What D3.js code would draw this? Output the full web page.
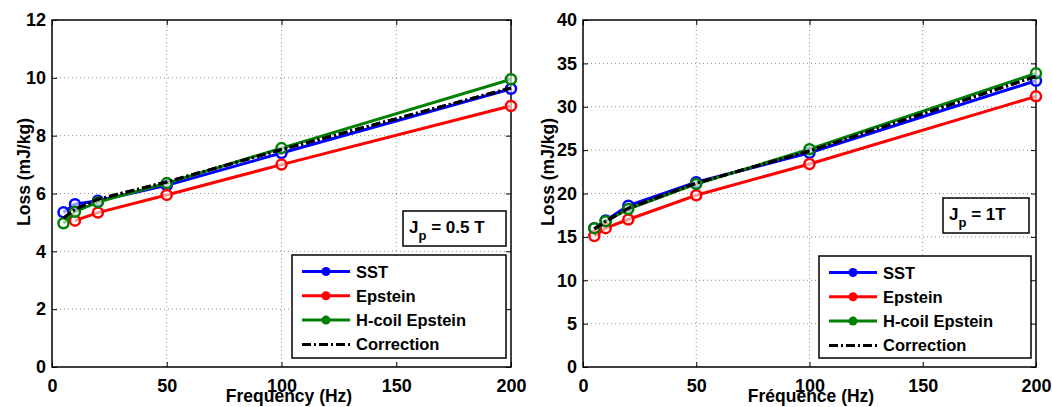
<!DOCTYPE html>
<html><head><meta charset="utf-8">
<script src="https://cdn.jsdelivr.net/npm/d3@7"></script>
<style>
body{margin:0;background:#fff;}
svg{display:block;font-family:"Liberation Sans",Arial,sans-serif;font-weight:bold;}
</style></head>
<body>
<svg id="chart" width="1052" height="407"></svg>
<script>
const freqs = [5, 10, 20, 50, 100, 200];
const epsteinFreqs05 = [10, 20, 50, 100, 200];
const sst05 = [5.35, 5.63, 5.75, 6.28, 7.40, 9.62];
const epstein05 = [5.06, 5.34, 5.95, 7.00, 9.03];
const hcoil05 = [4.97, 5.37, 5.70, 6.36, 7.57, 9.95];
const corr05 = [5.15, 5.45, 5.80, 6.40, 7.52, 9.65];

const sst1 = [16.0, 16.9, 18.6, 21.3, 24.7, 33.0];
const epstein1 = [15.1, 16.0, 17.0, 19.8, 23.4, 31.2];
const hcoil1 = [16.0, 16.8, 18.2, 21.1, 25.1, 33.85];
const corr1 = [15.9, 16.8, 18.3, 21.2, 24.9, 33.5];

const xTicks = [0, 50, 100, 150, 200];
const yTicks05 = [0, 2, 4, 6, 8, 10, 12];
const yTicks1 = [0, 5, 10, 15, 20, 25, 30, 35, 40];
const legendNames = ["SST", "Epstein", "H-coil Epstein", "Correction"];
const colors = {SST: "#0000ff", Epstein: "#ff0000", "H-coil Epstein": "#008000", Correction: "#000000"};

const svg = d3.select("#chart");

function panel(cfg) {
  const x = d3.scaleLinear().domain([0, 200]).range([cfg.x0, cfg.x1]);
  const y = d3.scaleLinear().domain([0, cfg.ymax]).range([367, 20]);
  const g = svg.append("g");
  // grid
  g.selectAll(".gx").data(xTicks.slice(1, -1)).join("line")
    .attr("x1", d => x(d)).attr("x2", d => x(d)).attr("y1", y(0)).attr("y2", y(cfg.ymax))
    .attr("stroke", "#8c8c8c").attr("stroke-width", 1).attr("stroke-dasharray", "1,3");
  g.selectAll(".gy").data(cfg.yTicks.slice(1, -1)).join("line")
    .attr("y1", d => y(d)).attr("y2", d => y(d)).attr("x1", x(0)).attr("x2", x(200))
    .attr("stroke", "#8c8c8c").attr("stroke-width", 1).attr("stroke-dasharray", "1,3");

  // axes
  const xa = g.append("g").attr("transform", `translate(0,${y(0)})`)
    .call(d3.axisBottom(x).tickValues(xTicks).tickSize(-5).tickPadding(12).tickSizeOuter(0));
  const ya = g.append("g").attr("transform", `translate(${x(0)},0)`)
    .call(d3.axisLeft(y).tickValues(cfg.yTicks).tickSize(-5).tickPadding(6).tickSizeOuter(0));
  const xt = g.append("g").attr("transform", `translate(0,${y(cfg.ymax)})`)
    .call(d3.axisTop(x).tickValues(xTicks).tickSize(-5).tickFormat("").tickSizeOuter(0));
  const yr = g.append("g").attr("transform", `translate(${x(200)},0)`)
    .call(d3.axisRight(y).tickValues(cfg.yTicks).tickSize(-5).tickFormat("").tickSizeOuter(0));
  [xa, ya, xt, yr].forEach(a => {
    a.select(".domain").remove();
    a.selectAll("line").attr("stroke", "#000").attr("stroke-width", 1);
    a.selectAll("text").attr("font-size", 18).attr("font-weight", "bold")
      .attr("font-family", "'Liberation Sans',Arial,sans-serif").attr("fill", "#000");
  });
  xa.selectAll("text").attr("dy", "0.71em");
  // frame
  g.append("rect").attr("x", x(0)).attr("y", y(cfg.ymax))
    .attr("width", x(200) - x(0)).attr("height", y(0) - y(cfg.ymax))
    .attr("fill", "none").attr("stroke", "#000").attr("stroke-width", 1.5);

  // series
  const line = d3.line().x(d => x(d[0])).y(d => y(d[1]));
  cfg.series.forEach(s => {
    const pts = s.f.map((f, i) => [f, s.v[i]]);
    const path = g.append("path").datum(pts).attr("d", line)
      .attr("fill", "none").attr("stroke", colors[s.name]).attr("stroke-width", 3);
    if (s.name === "Correction") {
      path.attr("stroke-dasharray", "9,3,2,3");
    } else {
      g.selectAll(null).data(pts).join("circle")
        .attr("cx", d => x(d[0])).attr("cy", d => y(d[1])).attr("r", 5)
        .attr("fill", "#fff").attr("fill-opacity", 0.6)
        .attr("stroke", colors[s.name]).attr("stroke-width", 2.5);
    }
  });
  // re-draw correction on top
  const corrS = cfg.series.find(s => s.name === "Correction");
  g.append("path").datum(corrS.f.map((f, i) => [f, corrS.v[i]])).attr("d", line)
    .attr("fill", "none").attr("stroke", "#000").attr("stroke-width", 3)
    .attr("stroke-dasharray", "9,3,2,3");

  // axis labels
  g.append("text").attr("x", cfg.xlabX).attr("y", 402).attr("text-anchor", "middle")
    .attr("font-size", 17.5).text(cfg.xlabel);
  g.append("text").attr("transform", `translate(${cfg.ylabX},${172}) rotate(-90)`)
    .attr("text-anchor", "middle").attr("font-size", 17.5).text("Loss (mJ/kg)");

  // annotation box
  const a = cfg.ann;
  g.append("rect").attr("x", a.x).attr("y", a.y).attr("width", a.w).attr("height", a.h)
    .attr("fill", "#fff").attr("stroke", "#000").attr("stroke-width", 1.5);
  const t = g.append("text").attr("x", a.x + 6).attr("y", a.y + 22).attr("font-size", 17);
  t.append("tspan").text("J");
  t.append("tspan").attr("dy", 7).attr("font-size", 13).text("p");
  t.append("tspan").attr("dy", -7).text(a.text);

  // legend
  const L = cfg.leg;
  g.append("rect").attr("x", L.x).attr("y", L.y).attr("width", L.w).attr("height", L.h)
    .attr("fill", "#fff").attr("stroke", "#000").attr("stroke-width", 1.5);
  legendNames.forEach((n, i) => {
    const yy = L.y + 16.5 + i * 24.3;
    const ln = g.append("line").attr("x1", L.x + 10).attr("x2", L.x + 58).attr("y1", yy).attr("y2", yy)
      .attr("stroke", colors[n]).attr("stroke-width", 3);
    if (n === "Correction") ln.attr("stroke-dasharray", "9,3,2,3");
    else g.append("circle").attr("cx", L.x + 34).attr("cy", yy).attr("r", 4.5).attr("fill", colors[n]);
    g.append("text").attr("x", L.x + 64).attr("y", yy + 6).attr("font-size", 16.5).text(n);
  });
}

panel({
  x0: 52, x1: 511, ymax: 12, yTicks: yTicks05, xlabel: "Frequency (Hz)", xlabX: 289, ylabX: 30,
  series: [
    {name: "SST", f: freqs, v: sst05},
    {name: "Epstein", f: epsteinFreqs05, v: epstein05},
    {name: "H-coil Epstein", f: freqs, v: hcoil05},
    {name: "Correction", f: freqs, v: corr05}
  ],
  ann: {x: 403, y: 211, w: 103, h: 35, text: " = 0.5 T"},
  leg: {x: 292, y: 255, w: 214, h: 103}
});
panel({
  x0: 583, x1: 1036, ymax: 40, yTicks: yTicks1, xlabel: "Fréquence (Hz)", xlabX: 811, ylabX: 554,
  series: [
    {name: "SST", f: freqs, v: sst1},
    {name: "Epstein", f: freqs, v: epstein1},
    {name: "H-coil Epstein", f: freqs, v: hcoil1},
    {name: "Correction", f: freqs, v: corr1}
  ],
  ann: {x: 943, y: 198, w: 86, h: 35, text: " = 1T"},
  leg: {x: 819, y: 256, w: 212, h: 102}
});
</script>
</body></html>
